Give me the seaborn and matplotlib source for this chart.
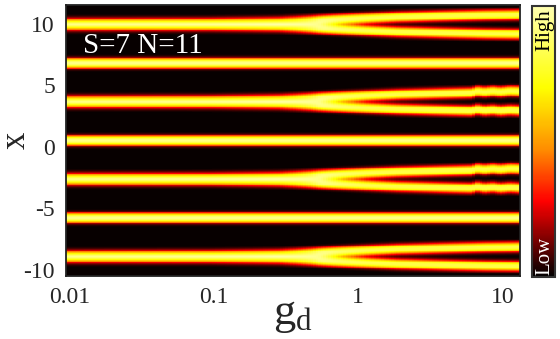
import numpy as np
import matplotlib
matplotlib.use("Agg")
import matplotlib.pyplot as plt
import seaborn as sns
from matplotlib.colors import LinearSegmentedColormap
from matplotlib.transforms import ScaledTranslation

# ---------------- data ----------------
# bright bands (lattice sites) along x
site_centers = [-3 * np.pi, -2 * np.pi, -np.pi, 0.0, np.pi, 2 * np.pi, 3 * np.pi]
site_splits = [True, False, True, False, True, False, True]
band_width = 0.3
single_amp = 0.93

# half-separation of the two branches of a splitting band vs g_d
split_g = [0.01, 0.1, 0.3, 0.5, 0.8, 1.2, 2.0, 4.0, 8.0, 14.0]
split_half = [0.15, 0.16, 0.21, 0.3, 0.41, 0.5, 0.6, 0.68, 0.75, 0.78]
split_amp = [0.93, 0.95, 0.98, 0.95, 0.88, 0.84, 0.82, 0.82, 0.82, 0.82]

# small wiggles of the +-pi bands at large g_d
wiggle_sites = [-np.pi, np.pi]
wiggle_g = [5.8, 6.5, 7.0, 8.0, 9.0, 10.3, 12.0, 14.0]
wiggle_shift = [0.0, 0.0, 0.12, 0.04, 0.1, 0.04, 0.1, 0.07]

g_range = (0.01, 14.0)
x_range = (-11.0, 11.0)
g_ticks = [0.01, 0.1, 1, 10]
g_tick_labels = ["0.01", "0.1", "1", "10"]
x_ticks = [10, 5, 0, -5, -10]
x_tick_labels = ["10", "5", "0", "-5", "-10"]
annotation = "S=7 N=11"

# palette: black - red - orange - yellow - pale yellow
pal_pos = [0.0, 0.1, 0.28, 0.47, 0.7, 1.0]
pal_col = [(0.0, 0.0, 0.0), (0.35, 0.0, 0.0), (1.0, 0.0, 0.0),
           (1.0, 0.55, 0.0), (1.0, 1.0, 0.0), (1.0, 1.0, 0.7)]

# ---------------- build density field ----------------
ncols, nrows = 180, 320
lg0, lg1 = np.log10(g_range[0]), np.log10(g_range[1])
lg_edges = np.linspace(lg0, lg1, ncols + 1)
lg = 0.5 * (lg_edges[:-1] + lg_edges[1:])
x_edges = np.linspace(x_range[1], x_range[0], nrows + 1)
xs = 0.5 * (x_edges[:-1] + x_edges[1:])
LG, X = np.meshgrid(lg, xs)


def profile(r):
    return np.exp(-0.5 * np.abs(r / band_width) ** 2.5)


Z = np.full(X.shape, 0.01)
lsg = np.log10(split_g)
lwg = np.log10(wiggle_g)
for c, sp in zip(site_centers, site_splits):
    shift = np.zeros_like(lg)
    if any(abs(c - w) < 1e-6 for w in wiggle_sites):
        shift = np.interp(lg, lwg, wiggle_shift, left=0.0, right=wiggle_shift[-1])
    cc = c + shift[None, :]
    if sp:
        d = np.interp(lg, lsg, split_half)[None, :]
        amp = np.interp(lg, lsg, split_amp)[None, :]
        prof = profile(X - cc - d) + profile(X - cc + d)
        prof = prof / prof.max(axis=0, keepdims=True)
        Z = np.maximum(Z, amp * prof)
    else:
        Z = np.maximum(Z, single_amp * profile(X - cc))

# ---------------- plotting ----------------
sns.set_style("white")
plt.rcParams["font.family"] = ["Liberation Serif", "DejaVu Serif"]
plt.rcParams["mathtext.fontset"] = "custom"
plt.rcParams["mathtext.rm"] = "Liberation Serif"
plt.rcParams["mathtext.it"] = "Liberation Serif:italic"

cmap = LinearSegmentedColormap.from_list("bandpal", list(zip(pal_pos, pal_col)))

W, H = 560, 339
fig = plt.figure(figsize=(W / 100, H / 100), dpi=100)
ax = fig.add_axes([66 / W, 1 - 276 / H, (520 - 66) / W, (276 - 5) / H])
cax = fig.add_axes([532 / W, 1 - 277 / H, 23 / W, (277 - 6) / H])

sns.heatmap(Z, ax=ax, cbar_ax=cax, cmap=cmap, vmin=0, vmax=1,
            xticklabels=False, yticklabels=False, rasterized=True)

# ticks mapped to heatmap cell coordinates
xt = [(np.log10(v) - lg0) / (lg1 - lg0) * ncols for v in g_ticks]
yt = [(x_range[1] - v) / (x_range[1] - x_range[0]) * nrows for v in x_ticks]
ax.set_xticks(xt)
ax.set_xticklabels(g_tick_labels, fontsize=17, rotation=0)
ax.set_yticks(yt)
ax.set_yticklabels(x_tick_labels, fontsize=17, rotation=0)
ax.tick_params(axis="both", length=0)
ax.tick_params(axis="x", pad=8)
ax.tick_params(axis="y", pad=8)
for lab in ax.get_yticklabels():
    lab.set_transform(lab.get_transform() + ScaledTranslation(0, -4.5 / 72, fig.dpi_scale_trans))
for lab in ax.get_xticklabels():
    lab.set_transform(lab.get_transform() + ScaledTranslation(2.5 / 72, 0, fig.dpi_scale_trans))

for s in ax.spines.values():
    s.set_visible(True)
    s.set_color("#222222")
    s.set_linewidth(1.3)

ax.set_ylabel("x", fontsize=25, rotation=90, va="center", ha="center")
ax.yaxis.set_label_coords(-50 / 454, 0.5)
ax.set_xlabel(r"$\mathrm{g}_\mathrm{d}$", fontsize=32, va="baseline", ha="center")
ax.xaxis.set_label_coords(0.5, -48 / 271)

ax.text(17 / 454, 0.85, annotation, transform=ax.transAxes, color="white",
        fontsize=21, ha="left", va="center")

cb = ax.collections[0].colorbar
cb.set_ticks([])
cb.outline.set_visible(True)
cb.outline.set_edgecolor("#333333")
cb.outline.set_linewidth(1.5)
cax.text(0.58, 0.91, "High", transform=cax.transAxes, rotation=90,
         ha="center", va="center", fontsize=15, color="black")
cax.text(0.58, 0.077, "Low", transform=cax.transAxes, rotation=90,
         ha="center", va="center", fontsize=15, color="white")

fig.savefig("out.png", dpi=100)
